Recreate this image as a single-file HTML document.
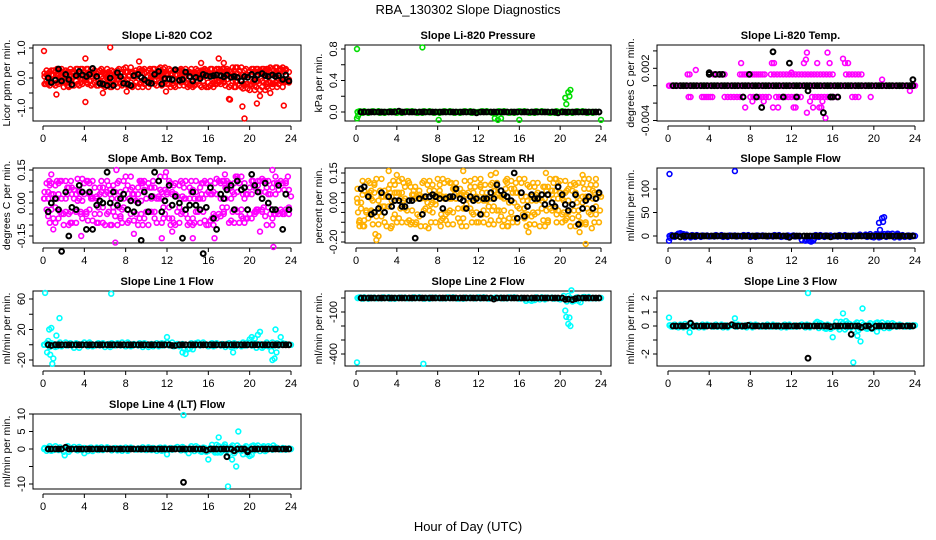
<!DOCTYPE html>
<html><head><meta charset="utf-8"><style>
html,body{margin:0;padding:0;background:#fff;}
svg{display:block;font-family:"Liberation Sans",Arial,sans-serif;}
</style></head><body>
<svg id="chart" width="936" height="540" viewBox="0 0 936 540">
<text x="468" y="14" text-anchor="middle" font-size="13">RBA_130302  Slope Diagnostics</text>
<text x="468" y="531" text-anchor="middle" font-size="13">Hour of Day (UTC)</text>
</svg>
<script>
// ---- shared sampling hours ----
const H = [0.5,0.8,1.2,1.5,1.8,2.2,2.5,2.8,3.2,3.5,3.8,4.2,4.5,4.8,5.2,5.5,5.8,6.2,6.5,6.8,7.2,7.5,7.8,8.2,8.5,8.8,9.2,9.5,9.8,10.2,10.5,10.8,11.2,11.5,11.8,12.2,12.5,12.8,13.2,13.5,13.8,14.2,14.5,14.8,15.2,15.5,15.8,16.2,16.5,16.8,17.2,17.5,17.8,18.2,18.5,18.8,19.2,19.5,19.8,20.2,20.5,20.8,21.2,21.5,21.8,22.2,22.5,22.8,23.2,23.5,23.8];
const H2 = [0.15,0.35,0.65,1.0,1.35,1.65,2.0,2.35,2.65,3.0,3.35,3.65,4.0,4.35,4.65,5.0,5.35,5.65,6.0,6.35,6.65,7.0,7.35,7.65,8.0,8.35,8.65,9.0,9.35,9.65,10.0,10.35,10.65,11.0,11.35,11.65,12.0,12.35,12.65,13.0,13.35,13.65,14.0,14.35,14.65,15.0,15.35,15.65,16.0,16.35,16.65,17.0,17.35,17.65,18.0,18.35,18.65,19.0,19.35,19.65,20.0,20.35,20.65,21.0,21.35,21.65,22.0,22.35,22.65,23.0,23.35,23.65,24.0];
const xTicks = [0,4,8,12,16,20,24];

// ---- P1 CO2 ----
const co2A = [0.15,-0.1,0.2,-0.2,0.1,0.25,-0.15,0.05,0.3,-0.25,0.1,-0.05,0.2,-0.2,0.15,0.25,-0.1,0.05,-0.3,0.2,0.1,-0.15,0.3,-0.05,0.2,-0.25,0.15,0.05,-0.2,0.25,-0.1,0.3,0.1,-0.25,0.2,-0.05,0.15,-0.3,0.25,0.1,-0.15,0.2,-0.2,0.3,0.05,-0.1,0.25,-0.25,0.15,0.1,-0.2,0.3,-0.05,0.2,-0.3,0.15,-0.1,0.25,-0.35,0.1,-0.4,0.2,-0.3,0.25,-0.15,0.3,0.1,-0.2,0.35,-0.1,0.2];
const co2B = [-0.2,0.1,-0.05,0.25,-0.15,0.05,0.2,-0.25,0.1,0.15,-0.2,0.3,-0.1,0.05,-0.25,0.1,0.2,-0.15,0.15,-0.05,0.25,-0.2,0.05,0.2,-0.15,0.1,-0.3,0.25,0.15,-0.1,0.2,-0.2,0.05,0.15,-0.15,0.3,-0.2,0.1,-0.05,0.25,0.05,-0.25,0.15,-0.1,0.2,0.25,-0.3,0.1,-0.15,0.3,0.05,-0.1,0.2,-0.25,0.1,0.35,-0.3,0.05,-0.2,0.3,-0.25,-0.1,0.3,-0.4,0.1,-0.2,0.35,0.15,-0.3,0.25,-0.05];
const co2C = [0.05,0.25,-0.25,0.1,0.3,-0.1,-0.3,0.2,-0.1,0.05,0.3,-0.15,0.1,0.3,0.05,-0.15,-0.25,0.3,0.1,-0.1,-0.3,0.15,-0.05,-0.25,0.35,0.05,0.2,-0.15,0.3,-0.3,0.05,-0.1,0.3,0.05,0.35,-0.2,0.1,0.25,-0.25,-0.1,0.3,0.05,-0.3,0.15,-0.25,0.05,0.1,0.3,-0.3,-0.2,0.25,-0.15,0.3,0.05,0.25,-0.1,0.35,-0.25,0.1,-0.2,0.2,0.3,-0.1,0.15,0.3,-0.3,-0.15,0.25,-0.1,0.3,-0.15];
const co2OutH = [0.1,1.3,4.1,4.1,6.5,9.3,17,18,18.1,19.3,19.5,20.7,21,23.3,17.5,22,15.3,0.3,2.5,5.8,8.1,11.9];
const co2OutV = [0.9,-0.55,-0.8,0.65,1.02,0.55,0.65,-0.7,-0.72,-0.95,-1.35,-0.85,-0.6,-0.92,0.5,-0.5,0.5,-0.2,-0.25,-0.5,-0.45,-0.45];
const co2K = [0,-0.15,-0.07,0.3,-0.1,0.12,-0.05,-0.22,0.08,0.22,0.1,0.05,0.12,0.32,0.05,-0.18,-0.2,-0.25,0,-0.25,0.18,0.05,-0.18,-0.2,-0.25,0.08,0.12,0.02,-0.05,-0.15,-0.18,0.12,0.22,-0.2,-0.02,-0.03,-0.05,0.28,-0.08,-0.05,0.2,0.05,-0.1,0.02,-0.02,0.12,0.08,0.05,0.08,0.1,0.08,0.04,0.1,0.02,0.05,0.02,-0.1,0.05,0.02,0.12,-0.05,0.1,0.15,0.08,0.05,0.1,0.05,0.08,-0.05,0.1,-0.1];

// ---- P2 Pressure ----
const presC = [0,0.01,-0.01,0,0,0.01,0,-0.01,0,0,0.01,0,-0.01,0,0,0.01,0,0,-0.01,0,0.01,0,0,-0.01,0,0,0.01,0,0,-0.01,0,0,0.01,0,-0.01,0,0,0.01,0,0,-0.01,0,0.01,0,0,-0.01,0,0,0.01,0,0,-0.01,0,0.01,0,0,0,-0.01,0,0.01,0,0,-0.01,0,0,0.01,0,0,-0.01,0,0];
const presOutH = [0.1,6.5,0.1,0.2,8.1,13.6,13.9,14.2,16,20.5,20.6,20.8,20.9,21.0,24];
const presOutV = [0.8,0.82,-0.08,-0.05,-0.1,-0.08,-0.1,-0.08,-0.1,0.18,0.1,0.25,0.2,0.28,-0.1];
const presK = [0,0,0,0,0,0,0,0,0,0,0,0.01,0,0,0,0,0,0,0,0,0,0,0,0,0,0,0,0,0,0,0,0,0,0,-0.01,0,0,0,0,0,0,0,0,0,0,0,0,0,0,0,0,0,0,0,0,0,0,0,-0.01,0,0,0,0,0,0,0,0,0,0,0,0];

// ---- P3 Temp ----
const tempM = [0,0,0,0,0,0,0,0,0,0,0,0,0,0,0,0,0,0,0,0,0,0,0,0,0,0,0,0,0,0,0,0,0,0,0,0,0,0,0,0,0,0,0,0,0,0,0,0,0,0,0,0,0,0,0,0,0,0,0,0,0,0,0,0,0,0,0,0,0,0,0,0,0];
const tempLevelUp = 0.0013;
const tempLevelDown = -0.0013;
const tempUpH = [1.9,2.1,4.4,4.6,4.8,5.0,5.3,5.5,7.0,7.2,7.4,7.6,7.8,8.0,8.2,8.4,8.6,8.8,9.0,9.2,9.4,10.0,10.3,10.6,10.9,11.2,11.5,11.8,12.1,12.4,12.7,13.0,13.3,13.6,13.9,14.2,14.5,14.8,15.1,15.4,15.7,16.0,17.3,17.6,17.9,18.2,18.5,18.8];
const tempDownH = [2.0,2.2,3.3,3.5,3.7,3.9,4.1,4.3,5.5,5.8,6.1,6.4,6.7,7.0,7.3,8.0,8.3,8.6,8.9,9.2,9.5,9.8,10.5,10.8,11.1,11.4,11.7,12.0,12.3,12.6,12.9,14.0,14.3,14.6,14.9,15.2,15.5,15.8,16.1,16.4,17.9,18.2,18.5,19.7];
const tempOutH = [2.7,7.1,10.1,10.3,12.0,13.2,13.4,13.5,14.5,15.5,15.7,17.0,17.2,17.5,20.8,23.5,7.5,8.2,9.3,10.2,10.7,12.2,12.4,13.5,13.8,14.1,14.7,15.0,15.3,14.9,0.1,24];
const tempOutV = [0.0018,0.0026,0.0026,0.0026,0.0015,0.0026,0.003,0.0038,0.0026,0.0038,0.0026,0.0031,0.0026,0.0026,0.0007,-0.0006,-0.0025,-0.0018,-0.0018,-0.0025,-0.0025,-0.0025,-0.0025,-0.0031,-0.0018,-0.0025,-0.0025,-0.0018,-0.0037,-0.0025,0,0];
const tempK = [0,0,0,0,0,0,0,0,0,0,0,0,0,0,0,0,0,0,0,0,0,0,0,0,0,0,0,0,0,0,0,0,0,0,0,0,0,0,0,0,0,0,0,0,0,0,0,0,0,0,0,0,0,0,0,0,0,0,0,0,0,0,0,0,0,0,0,0,0,0,0];
const tempKOutH = [10.2,4.0,4.0,11.8,7.9,4.6,5.0,5.3,23.8,7.3,8.6,9.1,11.2,12.5,13.6,15.1,15.8,16.0,16.5];
const tempKOutV = [0.0039,0.0013,0.0015,0.0026,0.0013,0.0013,0.0013,0.0013,0.0007,-0.0013,-0.0013,-0.0025,-0.0013,-0.0013,-0.0006,-0.0031,-0.0013,-0.0013,-0.0013];

// ---- P4 Amb Box Temp ----
const ambA = [0.05,-0.03,0.08,-0.07,0.02,0.1,-0.05,0.04,-0.09,0.06,0.01,-0.04,0.09,-0.08,0.03,0.07,-0.02,0.05,-0.1,0.08,0.02,-0.06,0.1,-0.03,0.06,-0.08,0.04,0.01,-0.07,0.09,-0.04,0.07,0.03,-0.09,0.06,-0.02,0.05,-0.1,0.08,0.03,-0.05,0.07,-0.07,0.1,0.02,-0.04,0.09,-0.08,0.05,0.04,-0.06,0.1,-0.02,0.07,-0.09,0.05,-0.03,0.09,-0.07,0.04,-0.05,0.08,-0.03,0.1,-0.02,0.07,0.04,-0.05,0.09,-0.03,0.06];
const ambB = [-0.06,0.04,-0.02,0.09,-0.05,0.02,0.07,-0.09,0.04,0.05,-0.07,0.1,-0.03,0.02,-0.09,0.04,0.07,-0.05,0.06,-0.02,0.09,-0.07,0.02,0.08,-0.05,0.04,-0.1,0.09,0.06,-0.04,0.07,-0.07,0.02,0.05,-0.05,0.1,-0.07,0.04,-0.02,0.09,0.02,-0.09,0.06,-0.04,0.07,0.09,-0.1,0.04,-0.05,0.11,0.02,-0.04,0.07,-0.08,0.04,0.12,-0.06,0.02,-0.07,0.1,-0.04,-0.03,0.11,-0.06,0.04,-0.07,0.12,0.06,-0.05,0.09,-0.02];
const ambC = [0.02,0.09,-0.09,0.04,0.1,-0.04,-0.1,0.07,-0.04,0.02,0.11,-0.05,0.04,0.1,0.02,-0.05,-0.09,0.1,0.04,-0.04,-0.1,0.05,-0.02,-0.09,0.12,0.02,0.07,-0.05,0.1,-0.1,0.02,-0.04,0.1,0.02,0.12,-0.07,0.04,0.09,-0.09,-0.04,0.1,0.02,-0.1,0.05,-0.09,0.02,0.04,0.1,-0.1,-0.07,0.09,-0.05,0.1,0.02,0.09,-0.04,0.12,-0.09,0.04,-0.07,0.07,0.1,-0.04,0.05,0.1,-0.1,-0.05,0.09,-0.04,0.1,-0.05];
const ambOutH = [0.8,0.6,1.0,2.7,3.7,7.1,7.0,9.5,11.9,12.5,11.5,14.5,16.6,17.6,18.8,22.2,22.3,23.7,21,8.8,0.1,24];
const ambOutV = [0.13,0.1,-0.12,0.1,-0.15,0.15,-0.18,0.1,0.14,-0.13,-0.16,-0.16,-0.16,0.13,0.11,0.15,-0.2,0.12,-0.13,-0.14,0.02,0.03];
const ambK = [-0.04,0,0.02,-0.03,-0.22,0.05,-0.15,-0.02,-0.03,0.08,0.05,-0.12,0.05,-0.12,-0.01,0.01,0,0.14,0,0.05,-0.01,0.02,0.04,-0.03,0.01,-0.04,0,-0.17,0.05,-0.04,0.03,0.14,0.1,-0.04,0.01,0.08,-0.01,0.03,0,-0.16,-0.03,-0.01,0.05,-0.01,-0.03,-0.23,-0.02,0.07,-0.07,-0.12,0.04,0.02,0.06,0.08,-0.03,0.1,0.06,0.07,-0.03,0.13,0.08,0.05,0.02,0.09,0,-0.03,-0.03,0.08,-0.12,0.04,-0.03];

// ---- P5 Gas Stream RH ----
const rhA = [-0.03,0.06,-0.08,0.02,0.09,-0.05,0.03,-0.1,0.07,0.01,-0.06,0.05,-0.02,0.08,-0.09,0.04,0.02,-0.07,0.1,-0.03,0.06,-0.05,0.01,0.09,-0.08,0.03,-0.04,0.07,0.02,-0.1,0.05,-0.01,0.08,-0.06,0.03,0.09,-0.04,0.01,-0.09,0.06,0.04,-0.07,0.02,0.1,-0.05,0.07,-0.02,0.03,-0.08,0.09,0.01,-0.06,0.05,-0.03,0.08,-0.1,0.04,0.06,-0.04,0.02,-0.09,0.07,-0.01,0.05,-0.07,0.1,0.03,-0.05,0.06,-0.02,0.04];
const rhB = [0.07,-0.09,0.04,-0.05,0.1,0.01,-0.07,0.06,-0.02,0.03,0.09,-0.08,0.05,-0.03,0.01,-0.1,0.08,0.04,-0.06,0.02,-0.04,0.09,-0.01,0.06,0.03,-0.09,0.1,-0.05,0.02,0.07,-0.08,0.04,-0.03,0.05,-0.1,0.08,0.01,-0.06,0.09,-0.02,-0.04,0.06,-0.09,0.03,0.07,-0.08,0.05,0.1,-0.03,0.01,-0.07,0.08,-0.05,0.04,0.02,-0.09,0.06,-0.03,0.1,-0.06,0.05,0.01,-0.08,0.09,-0.04,0.03,-0.1,0.07,0.02,-0.06,0.05];
const rhC = [0,-0.12,0.11,-0.04,0.05,-0.11,0.12,-0.02,0.03,-0.12,0.05,0.11,-0.1,0.02,0.1,-0.04,-0.11,0.06,0.03,-0.12,0.11,0,-0.1,0.04,0.12,-0.06,0.02,-0.11,0.1,0.04,-0.03,-0.12,0.11,0.02,-0.05,0.12,-0.1,0.05,0.02,-0.11,0.1,0.03,-0.04,-0.12,0.11,0,-0.1,0.05,0.12,-0.06,0.03,-0.11,0.1,0.01,-0.12,0.08,-0.04,0.12,0.02,-0.1,0.11,-0.05,0.06,-0.12,0.1,0,-0.11,0.12,-0.03,0.09,-0.1];
const rhOutH = [0.3,0.7,1.5,1.9,2.0,2.2,3.2,3.4,4.0,4.5,5.1,5.9,7.1,8.3,9.0,10.5,13.2,13.7,14.8,14.9,16.7,16.9,18.6,19.6,22.2,22.5,23.1,23.5,21.9,0.1,24,0.2,23.9];
const rhOutV = [-0.1,-0.12,0.06,-0.16,-0.19,-0.17,0.16,-0.13,0.14,0.12,0.11,-0.1,-0.13,-0.12,0.11,0.16,0.14,0.15,0.12,-0.12,-0.12,-0.15,0.15,0.12,0.14,-0.21,-0.13,0.12,-0.15,0.02,0.03,-0.05,-0.04];
const rhK = [0.07,0.08,0.03,-0.06,-0.05,-0.03,0.05,-0.05,0.03,-0.02,0.01,0.01,-0.02,-0.02,0.01,0.01,-0.18,0.02,-0.06,0.03,0.03,0.04,0.03,0.02,-0.03,0.02,0.03,0.03,0.07,0.02,0.01,-0.03,0.03,0.01,0.02,-0.06,0.02,0.02,0.05,0.02,0.09,0.06,0.04,0.03,0.01,0.15,-0.08,0.05,-0.07,-0.02,0.04,0.02,0.02,0.04,-0.01,0.04,0,-0.02,0.08,0.04,-0.01,-0.04,-0.01,0.04,-0.11,-0.03,0.01,0.03,-0.03,0.02,0.05];

// ---- P6 Sample Flow ----
const flowC = [0,2,-2,4,3,-3,0,2,-2,0,1,0,-1,0,2,0,-2,0,1,0,-1,0,2,0,-2,0,1,0,0,-1,0,2,0,-2,0,1,0,-1,0,-8,-10,-6,0,2,-2,0,1,0,-1,0,2,0,-2,0,1,0,3,0,-2,4,-3,2,-2,4,5,0,-3,2,0,-2,1];
const flowOutH = [0.15,6.5,0.1,0.2,1.0,1.2,13.7,13.9,14.1,20.5,20.6,20.8,20.9,21.0,22.3,24];
const flowOutV = [132,138,-10,-4,5,6,-10,-12,-10,28,13,38,30,40,5,0];
const flowK = [0,0,-2,0,0,0,0,0,0,0,0,0,0,0,0,0,0,0,0,0,0,0,0,0,0,0,0,0,0,0,0,0,0,0,-3,0,0,0,0,0,0,0,0,0,0,0,-2,0,0,0,0,0,0,0,0,0,0,0,0,0,0,0,0,0,0,0,0,0,0,0,0];

// ---- P7 Line 1 Flow ----
const l1C = [0,2,-3,1,-2,3,0,-1,2,-4,1,0,3,-2,1,-1,2,0,-3,1,2,-1,0,3,-2,1,-1,0,2,-3,1,0,-2,2,1,-1,3,0,-2,1,0,-5,-6,2,-1,3,0,1,-2,2,-1,0,1,-3,2,0,-2,1,3,-1,2,0,-4,1,-2,3,0,-1,2,1,0];
const l1OutH = [0.2,6.6,0.4,0.5,0.6,0.8,0.7,0.9,1.0,1.3,1.6,12,13.5,13.8,18.4,20,20.2,20.5,20.8,21,22.1,22.2,22.4,22.5,22.6,23,0.1,24];
const l1OutV = [68,67,-10,5,20,22,-13,-25,-18,12,35,10,-10,-12,-10,7,10,8,13,17,-8,-20,-18,20,-10,10,0,0];
const l1K = [0,-1,0,0,0,0,0,0,0,0,0,0,0,0,0,0,0,0,0,0,0,0,0,0,0,0,0,0,0,0,0,0,0,0,0,0,-1,-1,0,0,0,0,0,0,0,0,0,0,0,0,0,0,0,0,0,0,0,0,0,0,0,0,0,0,0,0,0,0,0,0,0];

// ---- P8 Line 2 Flow ----
const l2C = [0,5,-5,0,3,0,-3,0,5,0,-5,0,0,3,0,-3,0,5,0,0,-5,0,3,0,0,-3,0,5,0,0,-5,0,3,0,0,-3,5,0,0,-5,0,3,0,-3,0,5,0,0,-5,0,-20,-15,0,5,-10,0,3,0,-5,0,-10,15,-25,0,-20,5,0,8,0,-3,0];
const l2OutH = [0.1,6.6,20.6,20.5,20.8,21.0,20.9,21.1,22,0.2,24];
const l2OutV = [-460,-470,-135,-90,-185,-200,-140,55,-30,0,0];
const l2K = [0,0,0,0,0,0,0,0,0,0,0,0,0,0,0,0,0,0,0,0,0,0,0,0,0,0,0,0,0,0,0,0,0,0,0,0,0,0,0,-8,0,0,0,0,0,0,0,0,0,0,0,0,0,0,0,0,0,0,0,0,-10,-8,-12,-5,0,0,0,0,0,0,0];

// ---- P9 Line 3 Flow ----
const l3C = [0.05,-0.05,0.1,-0.1,0,0.15,-0.05,0.05,0,-0.1,0.1,0,0.05,-0.05,0.1,0,-0.1,0.05,0,0.1,-0.05,0.05,0,-0.1,0.1,0,0.05,-0.05,0,0.1,-0.05,0,0.05,-0.1,0.1,0,-0.05,0.05,0,0.1,-0.1,0.05,0,0.2,-0.15,0.1,-0.2,0.05,-0.1,0.3,-0.25,0.2,-0.1,0.15,-0.3,0.25,-0.15,0.1,-0.2,0.2,-0.1,0.25,0.1,-0.15,0.2,-0.05,0.1,0,0.05,-0.05,0.05];
const l3OutH = [0.1,2.1,6.5,13.6,16,17,18,18.4,18.7,18.9,20.3,17.3,14.5,0.2,24];
const l3OutV = [0.6,-0.45,0.55,2.35,-0.8,0.9,-2.6,-0.7,-1.1,1.25,-0.4,0.35,0.3,0.05,0.05];
const l3K = [0,0,0,0,0,0.2,0,0,0,0,0,0,0,0,0,0,0,0.1,0,0,0,0,0.05,0,0,0,0,0,0,0,0,0,0,0,0,0,0,0,0,0,0,0,0,0,0,0,-0.05,0,0,0,0,0,0,0,0,-0.1,0,0,-0.15,0,0,0,0,0,0,0,0,0,0,0,0];
const l3KOutH = [13.6,17.8];
const l3KOutV = [-2.3,-0.6];

// ---- P10 Line 4 (LT) Flow ----
const l4C = [0.3,-0.5,0.8,-0.3,0,0.5,-0.8,0.2,-0.2,0.6,-0.4,0,0.3,-0.6,0.4,0,-0.3,0.5,0,0.2,-0.4,0.3,0,-0.5,0.4,0,0.2,-0.2,0,0.5,-0.3,0,0.3,-0.5,0.4,0,-0.2,0.3,0,0.6,-0.4,0.2,0,0.8,-0.6,0.4,-0.8,0.3,-0.5,1.2,-1,0.8,-0.5,0.6,-1.2,1,-0.6,0.4,-1.5,0.8,-0.4,1,0.5,-0.6,0.8,-0.2,0.5,0,0.3,-0.2,0.2];
const l4OutH = [13.6,17,17.6,18.9,18.7,18.3,16,12,2.1,4,14.1,17.9,20,20.2,22.3,16.9,2.4,0.1,24];
const l4OutV = [9.7,3.3,1.3,5,-5,-3,-3,-1.5,-1.8,-1.2,-1.2,-10.7,-2,-1.7,1,-1,0.8,0,0];
const l4K = [0,0,0,0,0,0.5,0,0,0,0,0,0,0,0,0,0,0,0,0,0,0,0,0,0,0,0,0,0,0,0,0,0,0,0,0,0,0,0,0,0,0,0,0,0,0,0,-0.3,0,0,0,0,0,0,0,-0.5,0,0,0,-0.8,0,0,0,0,0,0,0,0,0,0,0,0];
const l4KOutH = [13.6,17.8,19.8];
const l4KOutV = [-9.5,-2.2,-0.5];

// ---- layout (positions, not data) ----
const NS = 'http://www.w3.org/2000/svg';
const svg = document.getElementById('chart');
const COLS = [{bl:33,br:301,x0:43,x24:291},{bl:345,br:611,x0:356,x24:601},{bl:657,br:924,x0:668,x24:915}];
const ROWS = [{bt:45,bb:121},{bt:168,bb:243},{bt:291,bb:366},{bt:414,bb:489}];

function mk(tag, attrs, parent){
  const e = document.createElementNS(NS, tag);
  for (const k in attrs) e.setAttribute(k, attrs[k]);
  (parent||svg).appendChild(e);
  return e;
}

function makePanel(cfg){
  const c = COLS[cfg.col], r = ROWS[cfg.row];
  const g = mk('g', {});
  
  
  const xs = h => c.x0 + (h/24)*(c.x24 - c.x0);
  const ys = v => cfg.ya + (v - cfg.va)*(cfg.yb - cfg.ya)/(cfg.vb - cfg.va);
  const box = mk('rect', {x:c.bl, y:r.bt, width:c.br-c.bl, height:r.bb-r.bt, fill:'none', stroke:'#000', 'stroke-width':1}, g);
  
  
  const t = mk('text', {x:(c.bl+c.br)/2, y:r.bt-6, 'text-anchor':'middle', 'font-size':11, 'font-weight':'bold'}, g);
  t.textContent = cfg.title;
  
  
  const xa = mk('g', {}, g);
  
  
  const ay = r.bb + 5;
  mk('line', {x1:xs(0), x2:xs(24), y1:ay, y2:ay, stroke:'#000'}, xa);
  xTicks.forEach(tv => {
    mk('line', {x1:xs(tv), x2:xs(tv), y1:ay, y2:ay+4, stroke:'#000'}, xa);
    const tl = mk('text', {x:xs(tv), y:r.bb+21, 'text-anchor':'middle', 'font-size':11}, xa);
    tl.textContent = String(tv);
    
    
  });
  const ya = mk('g', {}, g);
  
  
  cfg.ticks.forEach(tv => {
    const yy = ys(tv);
    mk('line', {x1:c.bl-4, x2:c.bl, y1:yy, y2:yy, stroke:'#000'}, ya);
  });
  cfg.labels.forEach((lv, i) => {
    const yy = ys(lv);
    const lx = c.bl - 8;
    const tl = mk('text', {x:lx, y:yy, 'text-anchor':'middle', 'font-size':11, transform:'rotate(-90 '+lx+' '+yy+')'}, ya);
    tl.textContent = cfg.labelText[i];
    
    
  });
  const ymid = (r.bt + r.bb)/2, tx = c.bl - 23;
  const yt = mk('text', {x:tx, y:ymid, 'text-anchor':'middle', 'font-size':10.5, transform:'rotate(-90 '+tx+' '+ymid+')'}, ya);
  yt.textContent = cfg.ylabel;
  
  
  const marks = mk('g', {}, g);
  
  
  function pts(hours, vals, color, sw){
    const n = Math.min(hours.length, vals.length);
    for (let i = 0; i < n; i++){
      const p = mk('circle', {cx:xs(hours[i]).toFixed(1), cy:ys(vals[i]).toFixed(1), r:2.4, fill:'none', stroke:color, 'stroke-width':sw}, marks);
      
      
    }
  }
  function level(hours, v, color, sw){
    for (let i = 0; i < hours.length; i++){
      const p = mk('circle', {cx:xs(hours[i]).toFixed(1), cy:ys(v).toFixed(1), r:2.4, fill:'none', stroke:color, 'stroke-width':sw}, marks);
      
      
    }
  }
  cfg.draw(pts, level);
}

const RED='#ff0000', GRN='#00dd00', MAG='#ff00ff', ORG='#ffb000', BLU='#0000ff', CYN='#00ffff', BLK='#000';
const CW = 1.6, KW = 2;

makePanel({name:'co2', col:0,row:0,title:'Slope Li-820 CO2', ylabel:'Licor ppm per min.', va:1,ya:48,vb:-1,yb:108,
  ticks:[1,0.5,0,-0.5,-1], labels:[1,0,-1], labelText:['1.0','0.0','-1.0'],
  draw:(p)=>{ p(H,co2A,RED,CW); p(H,co2B,RED,CW); p(H,co2C,RED,CW); p(H2,co2B,RED,CW); p(H2,co2C,RED,CW); p(H2,co2A,RED,CW); p(co2OutH,co2OutV,RED,CW); p(H,co2K,BLK,KW); }});
makePanel({name:'pressure', col:1,row:0,title:'Slope Li-820 Pressure', ylabel:'kPa per min.', va:0.8,ya:49,vb:0,yb:112,
  ticks:[0.8,0.6,0.4,0.2,0], labels:[0.8,0.4,0], labelText:['0.8','0.4','0.0'],
  draw:(p)=>{ p(H,presC,GRN,CW); p(H2,presC,GRN,CW); p(presOutH,presOutV,GRN,CW); p(H,presK,BLK,KW); }});
makePanel({name:'licor-temp', col:2,row:0,title:'Slope Li-820 Temp.', ylabel:'degrees C per min.', va:0.002,ya:68.3,vb:-0.004,yb:120.5,
  ticks:[0.004,0.002,0,-0.002,-0.004], labels:[0.002,-0.004], labelText:['0.002','-0.004'],
  draw:(p,l)=>{ p(H,tempM,MAG,CW); p(H2,tempM,MAG,CW); l(tempUpH,tempLevelUp,MAG,CW); l(tempDownH,tempLevelDown,MAG,CW); p(tempOutH,tempOutV,MAG,CW); p(H,tempK,BLK,KW); p(tempKOutH,tempKOutV,BLK,KW); }});
makePanel({name:'amb-box-temp', col:0,row:1,title:'Slope Amb. Box Temp.', ylabel:'degrees C per min.', va:0.15,ya:170,vb:-0.15,yb:236,
  ticks:[0.15,0.1,0.05,0,-0.05,-0.1,-0.15], labels:[0.15,0,-0.15], labelText:['0.15','0.00','-0.15'],
  draw:(p)=>{ p(H,ambA,MAG,CW); p(H,ambB,MAG,CW); p(H,ambC,MAG,CW); p(H2,ambC,MAG,CW); p(H2,ambA,MAG,CW); p(ambOutH,ambOutV,MAG,CW); p(H,ambK,BLK,KW); }});
makePanel({name:'gas-stream-rh', col:1,row:1,title:'Slope Gas Stream RH', ylabel:'percent per min.', va:0.15,ya:173,vb:-0.2,yb:242,
  ticks:[0.15,0.1,0.05,0,-0.05,-0.1,-0.15,-0.2], labels:[0.15,0,-0.2], labelText:['0.15','0.00','-0.20'],
  draw:(p)=>{ p(H,rhA,ORG,CW); p(H,rhB,ORG,CW); p(H,rhC,ORG,CW); p(H2,rhC,ORG,CW); p(H2,rhB,ORG,CW); p(rhOutH,rhOutV,ORG,CW); p(H,rhK,BLK,KW); }});
makePanel({name:'sample-flow', col:2,row:1,title:'Slope Sample Flow', ylabel:'ml/min per min.', va:100,ya:189,vb:0,yb:236,
  ticks:[100,50,0], labels:[100,50,0], labelText:['100','50','0'],
  draw:(p)=>{ p(H,flowC,BLU,CW); p(H2,flowC,BLU,CW); p(flowOutH,flowOutV,BLU,CW); p(H,flowK,BLK,KW); }});
makePanel({name:'line1-flow', col:0,row:2,title:'Slope Line 1 Flow', ylabel:'ml/min per min.', va:60,ya:299,vb:-20,yb:360,
  ticks:[60,40,20,0,-20], labels:[60,20,-20], labelText:['60','20','-20'],
  draw:(p)=>{ p(H,l1C,CYN,CW); p(H2,l1C,CYN,CW); p(l1OutH,l1OutV,CYN,CW); p(H,l1K,BLK,KW); }});
makePanel({name:'line2-flow', col:1,row:2,title:'Slope Line 2 Flow', ylabel:'ml/min per min.', va:0,ya:298,vb:-400,yb:354,
  ticks:[0,-100,-200,-300,-400], labels:[-100,-400], labelText:['-100','-400'],
  draw:(p)=>{ p(H,l2C,CYN,CW); p(H2,l2C,CYN,CW); p(l2OutH,l2OutV,CYN,CW); p(H,l2K,BLK,KW); }});
makePanel({name:'line3-flow', col:2,row:2,title:'Slope Line 3 Flow', ylabel:'ml/min per min.', va:2,ya:298,vb:-2,yb:354,
  ticks:[2,1,0,-1,-2], labels:[2,1,0,-2], labelText:['2','1','0','-2'],
  draw:(p)=>{ p(H,l3C,CYN,CW); p(H2,l3C,CYN,CW); p(l3OutH,l3OutV,CYN,CW); p(H,l3K,BLK,KW); p(l3KOutH,l3KOutV,BLK,KW); }});
makePanel({name:'line4-flow', col:0,row:3,title:'Slope Line 4 (LT) Flow', ylabel:'ml/min per min.', va:10,ya:414,vb:-10,yb:484,
  ticks:[10,5,0,-5,-10], labels:[10,5,0,-10], labelText:['10','5','0','-10'],
  draw:(p)=>{ p(H,l4C,CYN,CW); p(H2,l4C,CYN,CW); p(l4OutH,l4OutV,CYN,CW); p(H,l4K,BLK,KW); p(l4KOutH,l4KOutV,BLK,KW); }});
</script>
</body></html>
